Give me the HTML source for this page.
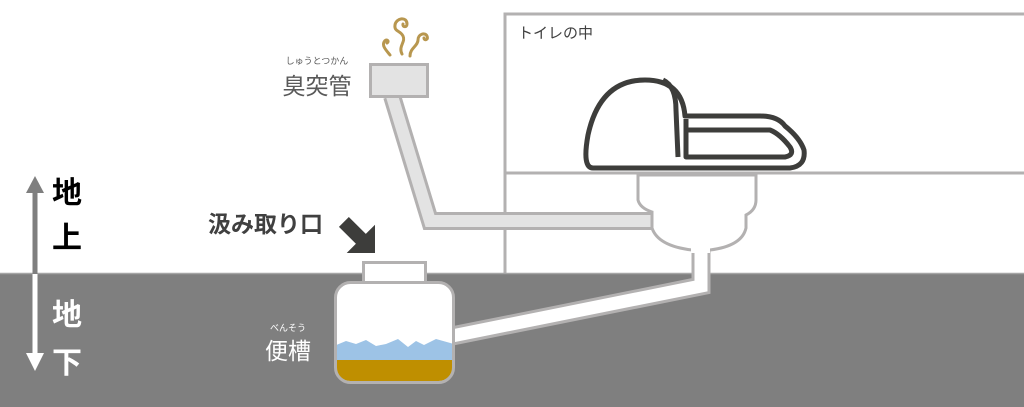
<!DOCTYPE html>
<html><head><meta charset="utf-8"><style>
html,body{margin:0;padding:0;background:#fff;}
svg{display:block;}
text{font-family:"Liberation Sans","Noto Sans CJK JP",sans-serif;}
</style></head><body>
<svg width="1024" height="407" viewBox="0 0 1024 407" xmlns="http://www.w3.org/2000/svg">
<rect x="0" y="0" width="1024" height="407" fill="#fff"/>
<path d="M505 273 V14 H1024" fill="none" stroke="#b3b1b1" stroke-width="3"/>
<line x1="505" y1="173" x2="1024" y2="173" stroke="#b3b1b1" stroke-width="3"/>
<text x="518" y="38" font-size="15" fill="#404040">トイレの中</text>
<rect x="0" y="273" width="1024" height="134" fill="#7f7f7f"/>
<line x1="0" y1="273.5" x2="1024" y2="273.5" stroke="#a5a5a5" stroke-width="1.5"/>
<path d="M392 96 L430 221 L655 221" fill="none" stroke="#b3b1b1" stroke-width="18" stroke-linejoin="miter"/>
<path d="M392 96 L430 221 L655 221" fill="none" stroke="#e3e3e3" stroke-width="12" stroke-linejoin="miter"/>
<rect x="370.5" y="64.5" width="57" height="32" fill="#e3e3e3" stroke="#b3b1b1" stroke-width="3"/>
<g fill="none" stroke="#b8974f" stroke-width="3" stroke-linecap="round">
<path d="M402 54 C398 46 406 42 403 36 C400 30 394 32 395 25 C396 18 407 16 407 24 C407 28 402 27 403 24"/>
<path d="M390 55 C386 50 382 46 384 42 C386 38 390 41 387 43"/>
<path d="M410 56 C410 48 418 46 418 40 C418 34 425 32 427 36 C429 40 424 41 424 38"/>
</g>
<text x="317" y="64" font-size="9" fill="#595959" text-anchor="middle">しゅうとつかん</text>
<text x="317" y="94" font-size="23" fill="#595959" text-anchor="middle">臭突管</text>
<path d="M701 248 V286 L452 336" fill="none" stroke="#b3b1b1" stroke-width="19" stroke-linejoin="miter"/>
<path d="M701 248 V286 L452 336" fill="none" stroke="#fff" stroke-width="13" stroke-linejoin="miter"/>
<path d="M638 175 V200 Q640 208 652 212 V228 Q658 246 692 250 H710 Q742 246 746 228 V215 Q756 210 756 200 V175 Z" fill="#fff" stroke="#b3b1b1" stroke-width="3"/>
<rect x="691" y="245" width="19" height="8" fill="#fff"/>
<g fill="none" stroke="#3d3d3b" stroke-width="5" stroke-linejoin="round">
<path d="M593 168 L790 168 Q806 166 804 150 Q800 138 785 126 Q778 116 760 116 L685 116 Q682 80 645 80 Q600 80 588 135 Q582 168 593 168 Z"/>
<path d="M663 80 Q676 86 676 110 L678 157"/>
<path d="M686 119 L686 157 L785 157 Q795 155 790 147 Q780 134 770 130 L686 130"/>
</g>
<rect x="363.5" y="262.5" width="62" height="20" fill="#fff" stroke="#b3b1b1" stroke-width="3"/>
<clipPath id="tk"><rect x="336" y="283" width="117" height="98" rx="14"/></clipPath>
<rect x="336" y="283" width="117" height="98" rx="14" fill="#fff"/>
<g clip-path="url(#tk)">
<path d="M334 346 L346 341 L356 344 L366 340 L376 346 L386 344 L398 339 L408 347 L416 341 L424 345 L436 339 L454 344 V362 H334 Z" fill="#9dc3e6"/>
<rect x="334" y="360" width="122" height="25" fill="#bf8f00"/>
</g>
<rect x="335.5" y="282.5" width="118" height="100" rx="15" fill="none" stroke="#b3b1b1" stroke-width="3"/>
<text x="288" y="331" font-size="9" fill="#fff" text-anchor="middle">べんそう</text>
<text x="288" y="359" font-size="23" fill="#fff" text-anchor="middle">便槽</text>
<text x="208" y="232" font-size="23" fill="#404040" font-weight="bold">汲み取り口</text>
<polygon transform="translate(375,253) rotate(-45)" points="0,0 -20,-20 -7,-20 -7,-44 7,-44 7,-20 20,-20" fill="#3d3d3b"/>
<line x1="35" y1="190" x2="35" y2="274" stroke="#7f7f7f" stroke-width="5"/>
<polygon points="26,193 35,176 44,193" fill="#7f7f7f"/>
<line x1="35" y1="274" x2="35" y2="356" stroke="#fff" stroke-width="5"/>
<polygon points="26,353 35,371 44,353" fill="#fff"/>
<text x="52" y="203" font-size="30" fill="#000" font-weight="bold">地</text>
<text x="52" y="248" font-size="30" fill="#000" font-weight="bold">上</text>
<text x="52" y="325" font-size="30" fill="#fff" font-weight="bold">地</text>
<text x="52" y="373" font-size="30" fill="#fff" font-weight="bold">下</text>
</svg>
</body></html>
